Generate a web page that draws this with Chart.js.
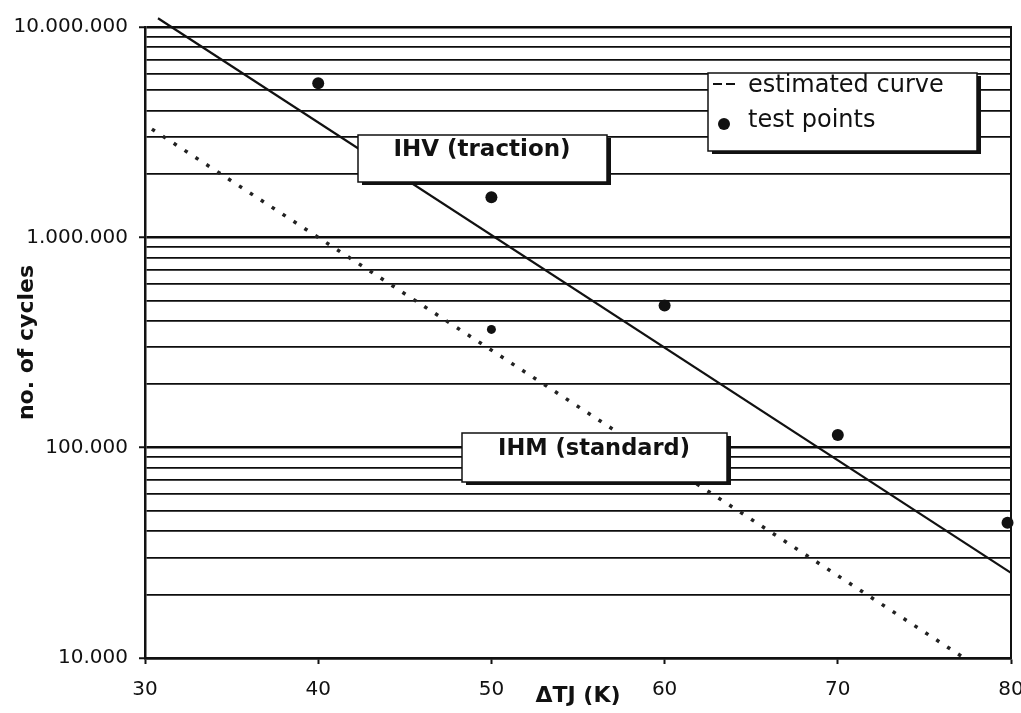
<!DOCTYPE html>
<html><head><meta charset="utf-8">
<script src="https://cdn.jsdelivr.net/npm/chart.js@4.4.1/dist/chart.umd.min.js"></script>
<style>html,body{margin:0;padding:0;background:#fff}canvas{display:block}</style>
</head><body>
<canvas id="c" width="1021" height="713"></canvas>
<script>
// ---- data ----
const xTickValues = [30, 40, 50, 60, 70, 80];
const yTickValues = [
  10000, 20000, 30000, 40000, 50000, 60000, 70000, 80000, 90000,
  100000, 200000, 300000, 400000, 500000, 600000, 700000, 800000, 900000,
  1000000, 2000000, 3000000, 4000000, 5000000, 6000000, 7000000, 8000000, 9000000,
  10000000
];
const yTickLabels = [
  '10.000', '', '', '', '', '', '', '', '',
  '100.000', '', '', '', '', '', '', '', '',
  '1.000.000', '', '', '', '', '', '', '', '',
  '10.000.000'
];
const yMajorValues = [10000, 100000, 1000000, 10000000];

// IHV (traction) fitted curve (solid)
const ihvCurveX = [30.75, 80];
const ihvCurveY = [11000000, 25400];
// IHM (standard) estimated curve (dotted)
const ihmCurveX = [30.4, 77.3];
const ihmCurveY = [3270000, 10000];
// test points
const testX = [40, 50, 50, 60, 70, 79.8];
const testY = [5400000, 1550000, 365000, 474000, 115000, 44000];
const testRadius = [6, 6, 4.5, 6, 6, 6];

const legendLabels = ['estimated curve', 'test points'];
const boxLabels = ['IHV (traction)', 'IHM (standard)'];

const pts = (xs, ys) => xs.map((x, i) => ({x: x, y: ys[i]}));

Chart.defaults.font.family = 'DejaVu Sans';
Chart.defaults.color = '#111';

const overlayPlugin = {
  id: 'overlay',
  afterDatasetsDraw(chart) {
    const ctx = chart.ctx;
    function box(x, y, w, h) {
      ctx.save();
      ctx.fillStyle = '#111';
      ctx.fillRect(x + 4, y + 3, w, h);
      ctx.fillStyle = '#fff';
      ctx.fillRect(x, y, w, h);
      ctx.strokeStyle = '#111';
      ctx.lineWidth = 1.5;
      ctx.strokeRect(x, y, w, h);
      ctx.restore();
    }
    function label(t, x, y, font, align) {
      ctx.save();
      ctx.fillStyle = '#111';
      ctx.font = font;
      ctx.textAlign = align;
      ctx.textBaseline = 'middle';
      ctx.fillText(t, x, y);
      ctx.restore();
    }
    // IHV box
    box(358, 135, 249, 47);
    label(boxLabels[0], 482, 150, 'bold 23px "DejaVu Sans"', 'center');
    // IHM box
    box(462, 433, 265, 49);
    label(boxLabels[1], 594, 449, 'bold 22.5px "DejaVu Sans"', 'center');
    // legend
    box(708, 73, 269, 78);
    ctx.save();
    ctx.strokeStyle = '#111';
    ctx.lineWidth = 2;
    ctx.setLineDash([9, 4]);
    ctx.beginPath();
    ctx.moveTo(713, 84); ctx.lineTo(738, 84);
    ctx.stroke();
    ctx.setLineDash([]);
    ctx.fillStyle = '#111';
    ctx.beginPath();
    ctx.arc(724, 124, 6, 0, Math.PI * 2);
    ctx.fill();
    ctx.restore();
    label(legendLabels[0], 748, 86, '24px "DejaVu Sans"', 'left');
    label(legendLabels[1], 748, 121, '24px "DejaVu Sans"', 'left');
  }
};

new Chart(document.getElementById('c'), {
  type: 'scatter',
  data: {
    datasets: [
      {
        label: 'test points',
        data: pts(testX, testY),
        pointRadius: testRadius,
        pointBackgroundColor: '#111',
        pointBorderWidth: 0,
        showLine: false,
        clip: false
      },
      {
        label: 'IHV (traction)',
        data: pts(ihvCurveX, ihvCurveY),
        showLine: true,
        borderColor: '#111',
        borderWidth: 2.2,
        pointRadius: 0,
        clip: false
      },
      {
        label: 'estimated curve',
        data: pts(ihmCurveX, ihmCurveY),
        showLine: true,
        borderColor: '#222',
        borderWidth: 3.5,
        borderDash: [3.5, 9.5],
        borderCapStyle: 'butt',
        pointRadius: 0
      }
    ]
  },
  options: {
    responsive: false,
    animation: false,
    layout: {padding: {top: 27, left: 0, right: 0, bottom: 0}},
    plugins: {legend: {display: false}, tooltip: {enabled: false}},
    scales: {
      x: {
        type: 'linear',
        min: 30, max: 80,
        afterBuildTicks: s => { s.ticks = xTickValues.map(v => ({value: v})); },
        afterFit: s => { s.height = 55; s.paddingLeft = 0; s.paddingRight = 0; },
        ticks: {font: {size: 20}, padding: 14, color: '#111'},
        grid: {drawOnChartArea: false, drawTicks: true, tickLength: 6, color: '#111', tickWidth: 2},
        border: {display: true, color: '#111', width: 2.5},
        title: {display: true, text: 'ΔTJ (K)', font: {size: 22, weight: 'bold'}, padding: {top: 0, bottom: 4}, color: '#111'}
      },
      y: {
        type: 'logarithmic',
        min: 10000, max: 10000000,
        afterBuildTicks: s => { s.ticks = yTickValues.map(v => ({value: v})); },
        afterFit: s => { s.width = 145; },
        ticks: {
          autoSkip: false,
          font: {size: 20},
          padding: 11,
          color: '#111',
          callback: v => { const i = yTickValues.indexOf(v); return i >= 0 ? yTickLabels[i] : ''; }
        },
        grid: {
          color: '#0d0d0d',
          lineWidth: c => (c.tick && yMajorValues.includes(c.tick.value)) ? 2.5 : 1.8,
          tickLength: 6,
          tickColor: c => (c.tick && yMajorValues.includes(c.tick.value)) ? '#111' : 'rgba(0,0,0,0)',
          tickWidth: 2
        },
        border: {display: true, color: '#111', width: 2.5},
        title: {display: true, text: 'no. of cycles', font: {size: 22, weight: 'bold'}, padding: {top: 14, bottom: 0}, color: '#111'}
      },
      y2: {
        type: 'linear',
        position: 'right',
        display: true,
        min: 0, max: 1,
        afterFit: s => { s.width = 10; },
        ticks: {display: false},
        grid: {drawOnChartArea: false, drawTicks: false},
        border: {display: true, color: '#111', width: 2}
      }
    }
  },
  plugins: [overlayPlugin]
});
</script>
</body></html>
